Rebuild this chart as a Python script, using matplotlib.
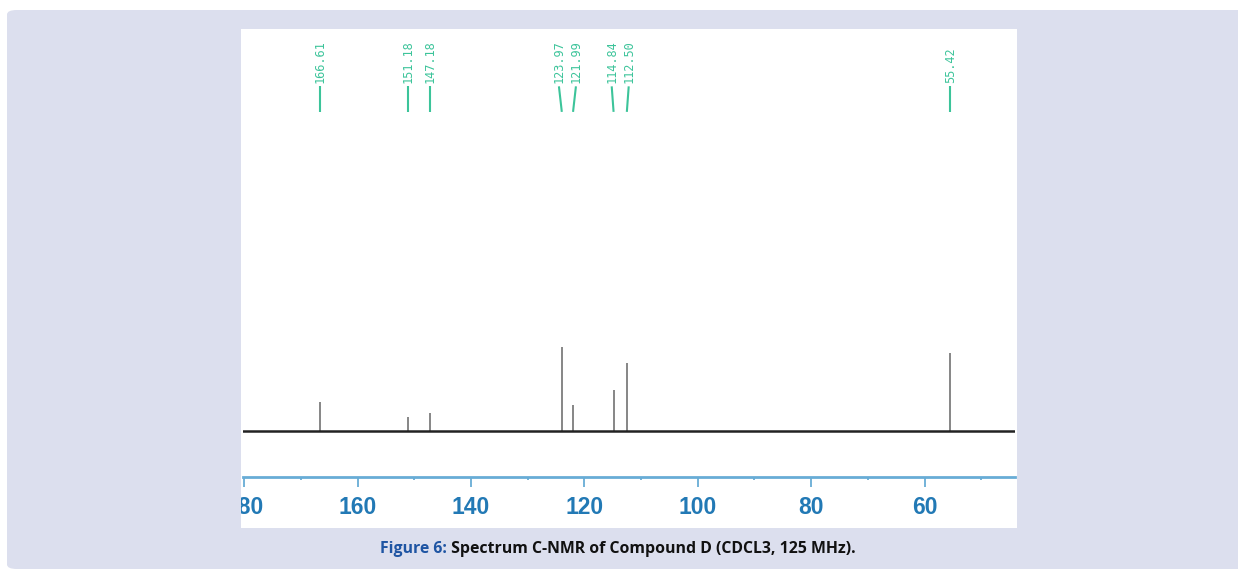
import matplotlib
matplotlib.use("Agg")
import matplotlib.pyplot as plt
from matplotlib.patches import FancyBboxPatch, Rectangle
from matplotlib.transforms import blended_transform_factory

# ---- data ----
peak_ppm = [166.61, 151.18, 147.18, 123.97, 121.99, 114.84, 112.50, 55.42]
peak_height = [29, 14, 18, 84, 26, 41, 68, 78]
peak_labels = ["166.61", "151.18", "147.18", "123.97", "121.99", "114.84", "112.50", "55.42"]
major_ticks = [180, 160, 140, 120, 100, 80, 60]
minor_ticks = [170, 150, 130, 110, 90, 70, 50]
caption_lead = "Figure 6:"
caption_rest = " Spectrum C-NMR of Compound D (CDCL3, 125 MHz)."

W, H = 1238, 569
fig = plt.figure(figsize=(W / 100, H / 100), dpi=100)
fig.patch.set_facecolor("white")

def fx(px):
    return px / W

def fy(py):
    return 1 - py / H

lav = "#dcdfee"
bg = FancyBboxPatch((fx(7), 0), fx(1250) - fx(7), fy(10), transform=fig.transFigure,
                    boxstyle="round,pad=0,rounding_size=0.008", fc=lav, ec="none", zorder=-10)
fig.add_artist(bg)
panel = Rectangle((fx(241), fy(528)), fx(1017) - fx(241), fy(29) - fy(528),
                  transform=fig.transFigure, fc="white", ec="none", zorder=-9)
fig.add_artist(panel)

# axes: spine at y=477 px, top at 29 px; x from 243 to 1015
ax = fig.add_axes([fx(243), fy(477), fx(1015) - fx(243), fy(29) - fy(477)])
ax.set_facecolor("none")
ax.set_xlim(180.2, 44.04)
ax.set_ylim(-46, 402)

# baseline and peaks
ax.axhline(0, color="#222222", lw=1.8, zorder=3)
ax.vlines(peak_ppm, 0, peak_height, color="#7d7d7d", lw=1.3, zorder=2)

# peak labels (spread close ones apart)
min_sep = 3.0
order = sorted(range(len(peak_ppm)), key=lambda i: -peak_ppm[i])
label_pos = [0.0] * len(peak_ppm)
groups = []
for i in order:
    if groups and peak_ppm[groups[-1][-1]] - peak_ppm[i] < min_sep:
        groups[-1].append(i)
    else:
        groups.append([i])
for g in groups:
    mean = sum(peak_ppm[i] for i in g) / len(g)
    n = len(g)
    for k, i in enumerate(g):
        label_pos[i] = mean + (n - 1) / 2 * min_sep - k * min_sep

trans = blended_transform_factory(ax.transData, ax.transAxes)
green = "#3cc49a"
for i, lab in enumerate(peak_labels):
    ax.text(label_pos[i], 0.879, lab, rotation=90, ha="center", va="bottom",
            family="DejaVu Sans Mono", fontsize=8.6, color=green, transform=trans)
    ax.plot([label_pos[i], peak_ppm[i]], [0.872, 0.815], color=green, lw=1.5,
            transform=trans, solid_capstyle="butt")

# axis styling
blue_line = "#68acd6"
for s in ["top", "left", "right"]:
    ax.spines[s].set_visible(False)
ax.spines["bottom"].set_color(blue_line)
ax.spines["bottom"].set_linewidth(2.0)
ax.set_yticks([])
ax.set_xticks(major_ticks)
ax.set_xticks(minor_ticks, minor=True)
ax.set_xticklabels([str(t) for t in major_ticks])
ax.tick_params(axis="x", which="major", direction="out", length=7, width=1.3,
               color=blue_line, pad=7, labelsize=16.5, labelcolor="#2279b5")
ax.tick_params(axis="x", which="minor", direction="out", length=2.5, width=1.3,
               color=blue_line)
for t in ax.get_xticklabels():
    t.set_fontweight("bold")
    t.set_family("Liberation Sans")

# cover outside panel on the left (clips "180")
cover = Rectangle((fx(200), fy(528)), fx(241) - fx(200), fy(478) - fy(528),
                  transform=fig.transFigure, fc=lav, ec="none", zorder=10)
fig.add_artist(cover)

# caption
fig.canvas.draw()
r = fig.canvas.get_renderer()
t1 = fig.text(0, fy(549), caption_lead, color="#1f55a3", fontsize=11.4,
              fontweight="bold", family="Open Sans", va="center", ha="left")
t2 = fig.text(0, fy(549), caption_rest, color="#111111", fontsize=11.4,
              fontweight="bold", family="Open Sans", va="center", ha="left")
w1 = t1.get_window_extent(r).width
w2 = t2.get_window_extent(r).width
start = 618 - (w1 + w2) / 2
t1.set_x(fx(start))
t2.set_x(fx(start + w1))

fig.savefig("out.png", dpi=100)
